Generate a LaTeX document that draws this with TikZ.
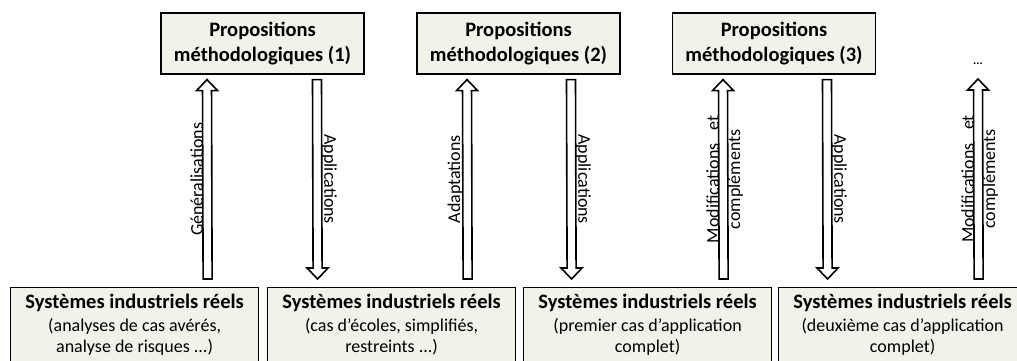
\documentclass[tikz,border=0pt]{standalone}
\usepackage{fontspec}
\setmainfont{Carlito}
\usetikzlibrary{positioning, calc}

\definecolor{boxfill}{RGB}{242,242,235}

\tikzset{
    propbox/.style={draw, line width=1.2pt, fill=boxfill, minimum width=203pt, minimum height=61pt,
        align=center, inner sep=0pt, font=\fontsize{20.5}{25}\selectfont\bfseries},
    sysbox/.style={draw, line width=1.2pt, fill=boxfill, minimum width=248pt, minimum height=110pt,
        anchor=north west, inner sep=0pt},
    systext/.style={align=center, inner sep=0pt, anchor=north, font=\fontsize{18}{20.5}\selectfont},
    hollow/.style={draw, line width=1.6pt, fill=white, line join=miter},
    uplabel/.style={rotate=90, anchor=south, inner sep=4pt, font=\fontsize{18}{20}\selectfont},
    downlabel/.style={rotate=-90, anchor=south, inner sep=4pt, font=\fontsize{18}{20}\selectfont},
    rightlabel/.style={rotate=90, anchor=north, inner sep=4pt, font=\fontsize{18}{20}\selectfont}
}

% hollow block arrow from #1 to #2
\newcommand{\hollowarrow}[2]{%
    \coordinate (hb) at ($(#2)!11pt!(#1)$);
    \draw[hollow] ($(#1)!4.5pt!90:(#2)$) -- ($(hb)!4.5pt!90:(#2)$) -- ($(hb)!10.5pt!90:(#2)$)
        -- (#2) -- ($(hb)!10.5pt!-90:(#2)$) -- ($(hb)!4.5pt!-90:(#2)$) -- ($(#1)!4.5pt!-90:(#2)$) -- cycle;
}
\newcommand{\systitle}{\textbf{\fontsize{20.5}{23}\selectfont Systèmes industriels réels}}

\begin{document}
\begin{tikzpicture}[x=1pt, y=1pt]
    \useasboundingbox (0,0) rectangle (1017,361);
    \clip (0,0) rectangle (1017,361);

    % Top row
    \node[propbox] (p1) at (262.5,317.5) {Propositions\\méthodologiques (1)};
    \node[propbox] (p2) at (518.5,317.5) {Propositions\\méthodologiques (2)};
    \node[propbox] (p3) at (774,317.5) {Propositions\\méthodologiques (3)};
    \node[inner sep=0pt, font=\fontsize{12}{12}\selectfont\bfseries] (dots) at (978,297) {...};

    % Bottom row
    \node[sysbox] (s1) at (10,74) {};
    \node[sysbox] (s2) at (267,74) {};
    \node[sysbox] (s3) at (523,74) {};
    \node[sysbox] (s4) at (778,74) {};
    \node[systext] (t1) at ($(s1.north)+(0,-7)$) {\systitle\\[2.5pt](analyses de cas avérés,\\analyse de risques ...)};
    \node[systext] (t2) at ($(s2.north)+(0,-7)$) {\systitle\\[2.5pt](cas d’écoles, simplifiés,\\restreints ...)};
    \node[systext] (t3) at ($(s3.north)+(0,-7)$) {\systitle\\[2.5pt](premier cas d’application\\complet)};
    \node[systext] (t4) at ($(s4.north)+(0,-7)$) {\systitle\\[2.5pt](deuxième cas d’application\\complet)};

    % Arrow ends
    \coordinate (u1a) at ($(s1.north)+(73,8)$);
    \coordinate (u1b) at ($(p1.south)+(-55.5,-5)$);
    \coordinate (d1a) at ($(p1.south)+(54.5,-5)$);
    \coordinate (d1b) at ($(s2.north)+(-74,8)$);
    \coordinate (u2a) at ($(s2.north)+(76,8)$);
    \coordinate (u2b) at ($(p2.south)+(-51.5,-5)$);
    \coordinate (d2a) at ($(p2.south)+(52.5,-5)$);
    \coordinate (d2b) at ($(s3.north)+(-76,8)$);
    \coordinate (u3a) at ($(s3.north)+(76,8)$);
    \coordinate (u3b) at ($(p3.south)+(-51,-5)$);
    \coordinate (d3a) at ($(p3.south)+(53,-5)$);
    \coordinate (d3b) at ($(s4.north)+(-75,8)$);
    \coordinate (u4a) at ($(s4.north)+(76,8)$);
    \coordinate (u4b) at ($(dots)+(0,-15)$);

    % Arrows
    \hollowarrow{u1a}{u1b}
    \hollowarrow{d1a}{d1b}
    \hollowarrow{u2a}{u2b}
    \hollowarrow{d2a}{d2b}
    \hollowarrow{u3a}{u3b}
    \hollowarrow{d3a}{d3b}
    \hollowarrow{u4a}{u4b}

    % Labels
    \path (u1a) -- (u1b) node[midway, uplabel] {Généralisations};
    \path (d1a) -- (d1b) node[midway, downlabel] {Applications};
    \path (u2a) -- (u2b) node[midway, uplabel] {Adaptations};
    \path (d2a) -- (d2b) node[midway, downlabel] {Applications};
    \path (u3a) -- (u3b) node[midway, uplabel] {Modifications\hspace{0.5em} et};
    \path (u3a) -- (u3b) node[midway, rightlabel] {compléments};
    \path (d3a) -- (d3b) node[midway, downlabel] {Applications};
    \path (u4a) -- (u4b) node[midway, uplabel] {Modifications\hspace{0.5em} et};
    \path (u4a) -- (u4b) node[midway, rightlabel] {compléments};
\end{tikzpicture}
\end{document}
